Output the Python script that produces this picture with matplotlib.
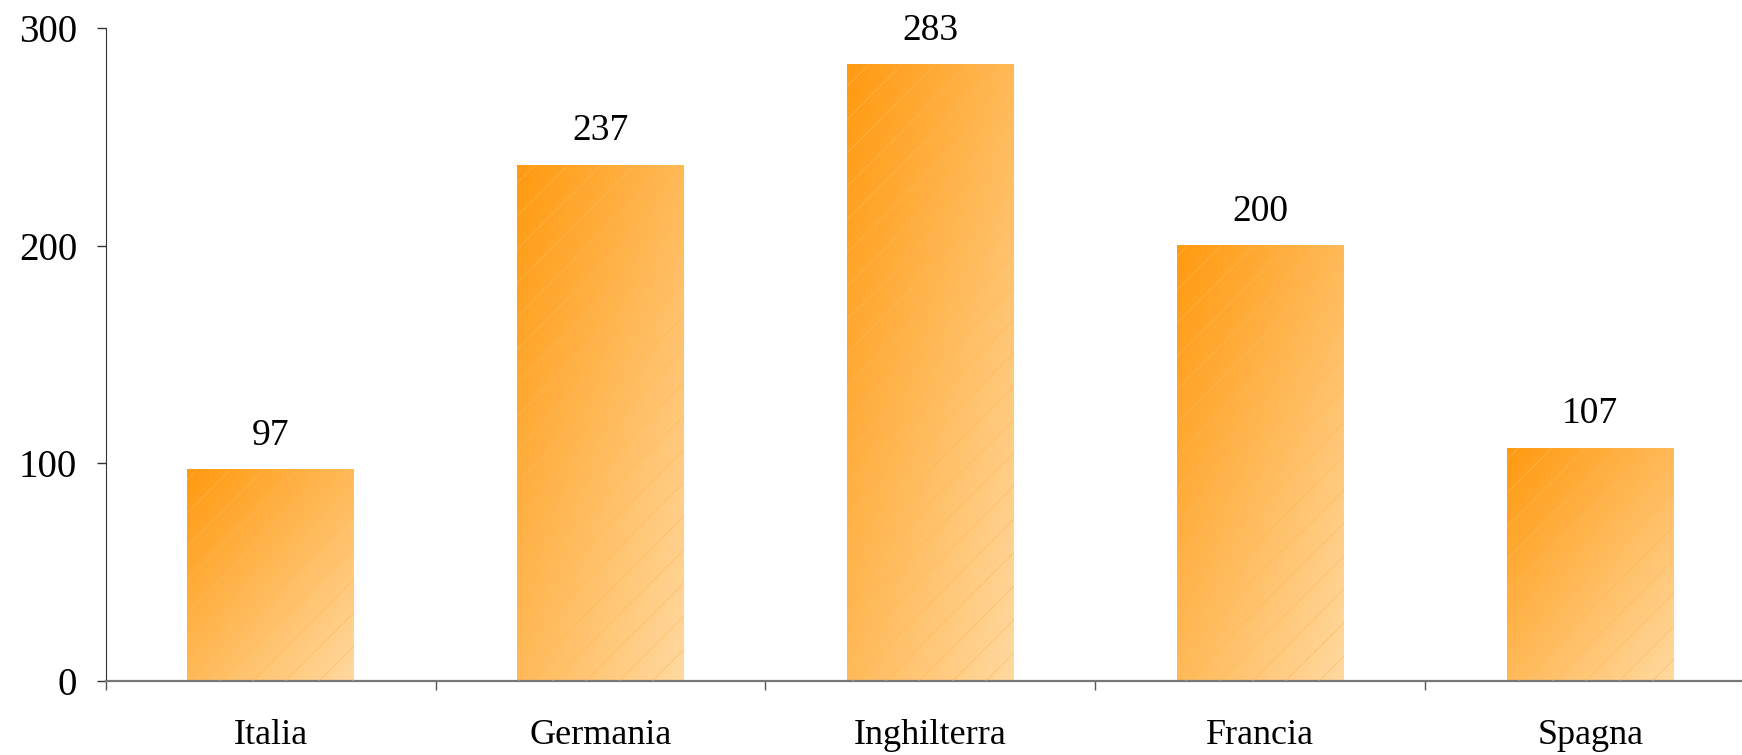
import numpy as np
import matplotlib
matplotlib.use('Agg')
import matplotlib.pyplot as plt
from matplotlib.colors import to_rgb

PAESI = ['Italia', 'Germania', 'Inghilterra', 'Francia', 'Spagna']
VALORI = [97, 237, 283, 200, 107]
Y_TICKS = [0, 100, 200, 300]

COL_SCURO = '#ff9a10'   # angolo in alto a sinistra
COL_CHIARO = '#ffd9a0'  # angolo in basso a destra

plt.rcParams['font.family'] = ['Liberation Serif', 'DejaVu Serif']
plt.rcParams['hatch.linewidth'] = 1.0

def gradiente(n=200):
    '''
    Immagine RGB con gradiente diagonale
    '''
    u = np.linspace(0, 1, n)
    U, V = np.meshgrid(u, u)
    t = (U + V) / 2.0
    c1 = np.array(to_rgb(COL_SCURO))
    c2 = np.array(to_rgb(COL_CHIARO))
    return c1[None, None, :] * (1 - t[..., None]) + c2[None, None, :] * t[..., None]

fig = plt.figure(figsize=(17.42, 7.55), dpi=100)
ax = fig.add_axes([0.0606, 0.098, 0.947, 0.865])

x = np.arange(len(PAESI))
bars = ax.bar(x, VALORI, width=0.505, color='none', edgecolor=(1.0, 0.72, 0.35, 0.45),
              linewidth=0, hatch='/', zorder=3)

img = gradiente()
for b in bars:
    x0, y0 = b.get_x(), b.get_y()
    w, h = b.get_width(), b.get_height()
    im = ax.imshow(img, extent=[x0, x0 + w, y0, y0 + h], origin='upper',
                   aspect='auto', zorder=2, interpolation='bilinear')

ax.bar_label(bars, labels=[str(v) for v in VALORI], padding=12, fontsize=27, color='black')

ax.set_xlim(-0.5, 4.5)
ax.set_ylim(0, 300)
ax.set_yticks(Y_TICKS)
ax.tick_params(axis='y', direction='out', length=6.5, width=1, labelsize=28, pad=14, color='#333333')

ax.set_xticks(x)
ax.set_xticklabels(PAESI)
ax.set_xticks(np.arange(-0.5, 4.6, 1.0), minor=True)
ax.tick_params(axis='x', which='major', length=0, labelsize=26, pad=27)
ax.tick_params(axis='x', which='minor', direction='out', length=6.5, width=1, color='#555555')

ax.spines['top'].set_visible(False)
ax.spines['right'].set_visible(False)
ax.spines['left'].set_color('#333333')
ax.spines['bottom'].set_color('#777777')
ax.spines['bottom'].set_linewidth(1.6)

fig.savefig('out.png', dpi=100)
